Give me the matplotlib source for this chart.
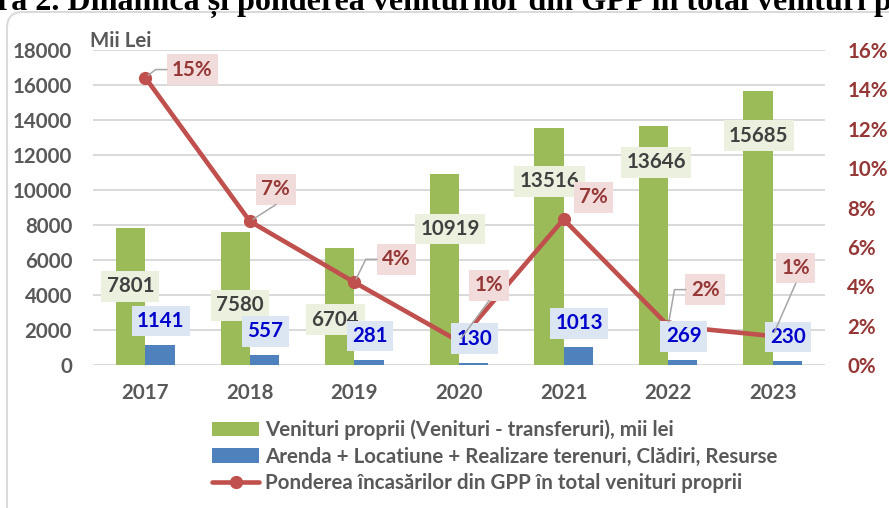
import numpy as np
import matplotlib
matplotlib.use("Agg")
import matplotlib.pyplot as plt
from matplotlib.lines import Line2D
from matplotlib.patches import FancyBboxPatch
from matplotlib.transforms import IdentityTransform

# ---------------- data ----------------
years = ["2017", "2018", "2019", "2020", "2021", "2022", "2023"]
own_revenue = [7801, 7580, 6704, 10919, 13516, 13646, 15685]      # mii lei
gpp_revenue = [1141, 557, 281, 130, 1013, 269, 230]               # mii lei
share_pct = [14.6, 7.3, 4.2, 1.2, 7.4, 2.0, 1.47]                  # %
left_ticks = list(range(0, 18001, 2000))
right_ticks = list(range(0, 17, 2))
legend_labels = [
    "Venituri proprii (Venituri - transferuri), mii lei",
    "Arenda + Locatiune + Realizare terenuri, Clădiri, Resurse",
    "Ponderea încasărilor din GPP în total venituri proprii",
]
title_text = "ra 2. Dinamica și ponderea veniturilor din GPP în total venituri p"

# ---------------- style / layout ----------------
W, H, DPI = 889, 508, 100
GREEN, BLUE, RED = "#9BBB59", "#4F81BD", "#C0504D"
GRAY_TXT, RED_TXT, BLUE_TXT, DARK_TXT = "#595959", "#953735", "#0000CC", "#404040"
FS = 14.8
plt.rcParams["font.family"] = ["Lato", "DejaVu Sans"]
plt.rcParams["font.weight"] = "bold"

# label offsets (pixels, y up) relative to anchor
green_off = [(-15, -58), (-10, -73), (-19, -72), (-9, -55), (-14, -53), (-12, -36), (-14, -45)]
blue_off = (15.5, 24)
pct_off = [(47, 8), (26, 32), (42, 23), (30, 56), (30, 22), (37, 36), (23, 68)]
leader_kind = ["elbow", "straight", "elbow", "straight", None, "elbow", "straight"]

fig = plt.figure(figsize=(W / DPI, H / DPI), dpi=DPI)
ax = fig.add_axes([93 / W, 1 - 365 / H, 732 / W, 315 / H])
ax2 = ax.twinx()

x = np.arange(len(years))
bw = 0.28
b1 = ax.bar(x - bw / 2, own_revenue, bw, color=GREEN, zorder=2)
b2 = ax.bar(x + bw / 2, gpp_revenue, bw, color=BLUE, zorder=2)
ln, = ax2.plot(x, share_pct, color=RED, lw=3.3, marker="o", ms=8.5,
               solid_capstyle="round", solid_joinstyle="round", zorder=3)

ax.set_xlim(-0.5, len(years) - 0.5)
ax.set_ylim(0, 18000)
ax2.set_ylim(0, 16)
ax.set_xticks(x)
ax.set_xticklabels(years)
ax.set_yticks(left_ticks)
ax.set_yticklabels([str(v) for v in left_ticks])
ax2.set_yticks(right_ticks)
ax2.set_yticklabels([f"{v}%" for v in right_ticks])
ax.grid(axis="y", color="#D9D9D9", lw=1.4)
ax.set_axisbelow(True)
for a in (ax, ax2):
    for s in a.spines.values():
        s.set_visible(False)
ax.tick_params(axis="both", length=0, labelsize=FS, labelcolor=GRAY_TXT)
ax.tick_params(axis="y", pad=15)
ax.tick_params(axis="x", pad=13)
ax2.tick_params(axis="y", length=0, pad=16, labelsize=FS, labelcolor=RED_TXT)

# ---------------- data labels ----------------
BOX = "square,pad=0.26"
for i, v in enumerate(own_revenue):
    ax2.annotate(f"{v}", xy=(i, v), xycoords=ax.transData, xytext=green_off[i],
                 textcoords="offset pixels", ha="center", va="center", fontsize=FS,
                 color=DARK_TXT, bbox=dict(boxstyle=BOX, fc="#EBF1DE", ec="none"),
                 zorder=5, annotation_clip=False)
for i, v in enumerate(gpp_revenue):
    ax2.annotate(f"{v}", xy=(i, v), xycoords=ax.transData, xytext=blue_off,
                 textcoords="offset pixels", ha="center", va="center", fontsize=FS,
                 color=BLUE_TXT, bbox=dict(boxstyle=BOX, fc="#DCE6F2", ec="none"),
                 zorder=6, annotation_clip=False)
pct_anns = []
for i, v in enumerate(share_pct):
    a = ax2.annotate(f"{v:.0f}%", xy=(i, v), xytext=pct_off[i],
                     textcoords="offset pixels", ha="center", va="center", fontsize=FS,
                     color=RED_TXT, bbox=dict(boxstyle=BOX, fc="#F2DCDB", ec="none"),
                     zorder=7, annotation_clip=False)
    pct_anns.append(a)

# ---------------- extra text ----------------
fig.text(90 / W, 1 - 41 / H, "Mii Lei", ha="left", va="center", fontsize=FS, color=GRAY_TXT)

fig.canvas.draw()
r = fig.canvas.get_renderer()

def fit_size(txt, target, **kw):
    t = fig.text(0, 0, txt, fontsize=10, **kw)
    w = t.get_window_extent(r).width
    t.remove()
    return 10 * target / w

tfs = fit_size(title_text, 900, family="Liberation Serif", weight="bold")
fig.text(-3 / W, 1 - 9.5 / H, title_text, family="Liberation Serif", weight="bold",
         fontsize=tfs, va="baseline", ha="left", color="black")

lfs = fit_size(legend_labels[1], 512, weight="bold")
lfs_px = lfs * DPI / 72
row_h = 1.2 * lfs_px
fig.legend([b1, b2, ln], legend_labels, loc="upper left",
           bbox_to_anchor=(212 / W, 1 - (432 - row_h / 2) / H), frameon=False,
           borderpad=0, borderaxespad=0, handlelength=47 / lfs_px,
           handletextpad=6 / lfs_px, labelspacing=(31 - row_h) / lfs_px,
           prop={"size": lfs, "weight": "bold"}, labelcolor=GRAY_TXT, numpoints=1)

# chart-area border
fig.add_artist(FancyBboxPatch((7, -40), 960, H - 12 + 40,
                              boxstyle="round,pad=0,rounding_size=16",
                              transform=IdentityTransform(), fc="none", ec="#D9D9D9", lw=1.4))

# leader lines
fig.canvas.draw()
r = fig.canvas.get_renderer()
for i, (a, kind) in enumerate(zip(pct_anns, leader_kind)):
    if kind is None:
        continue
    bb = a.get_bbox_patch().get_window_extent(r)
    P = ax2.transData.transform((i, share_pct[i]))
    cy = (bb.y0 + bb.y1) / 2
    if kind == "elbow":
        pts = [(bb.x0 - 11, cy), (bb.x0, cy)]
    else:
        pts = [((bb.x0 + bb.x1) / 2, bb.y0)]
    d = np.array(pts[0]) - P
    start = P + d / np.linalg.norm(d) * 4
    xs = [start[0]] + [p[0] for p in pts]
    ys = [start[1]] + [p[1] for p in pts]
    fig.add_artist(Line2D(xs, ys, transform=IdentityTransform(), color="#A6A6A6", lw=1.1, zorder=10))

fig.savefig("out.png", dpi=DPI)
